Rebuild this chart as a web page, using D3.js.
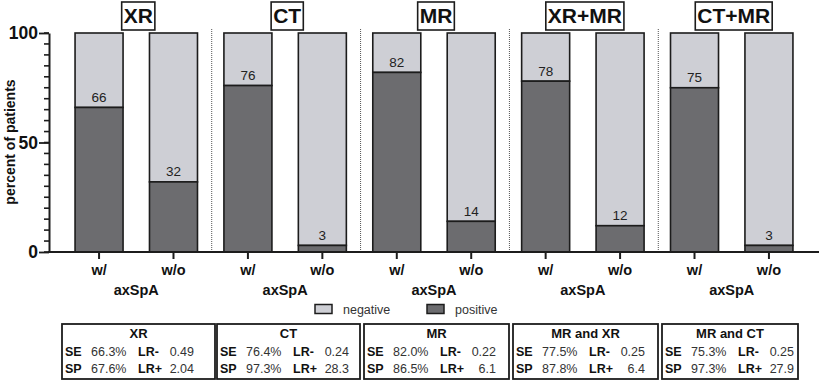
<!DOCTYPE html>
<html>
<head>
<meta charset="utf-8">
<script src="https://cdn.jsdelivr.net/npm/d3@7"></script>
<style>
  html, body { margin: 0; padding: 0; background: #fff; }
  svg { display: block; font-family: "Liberation Sans", Arial, Helvetica, sans-serif; }
</style>
</head>
<body>
<svg id="chart" width="820" height="381"></svg>
<script>
// ---------- data ----------
const groups = ["XR", "CT", "MR", "XR+MR", "CT+MR"];
const subgroups = ["w/", "w/o"];
const positiveWith = [66, 76, 82, 78, 75];
const positiveWithout = [32, 3, 14, 12, 3];
const yMajorTicks = [0, 50, 100];
const groupAxisLabel = "axSpA";
const yLabel = "percent of patients";
const legendLabels = ["negative", "positive"];

const tableTitles = ["XR", "CT", "MR", "MR and XR", "MR and CT"];
const seValues = ["66.3%", "76.4%", "82.0%", "77.5%", "75.3%"];
const spValues = ["67.6%", "97.3%", "86.5%", "87.8%", "97.3%"];
const lrNegValues = ["0.49", "0.24", "0.22", "0.25", "0.25"];
const lrPosValues = ["2.04", "28.3", "6.1", "6.4", "27.9"];

// ---------- layout ----------
const tableBoxes = [[62, 215], [217, 360], [364, 509], [513, 658], [662, 798]];
const colNeg = "#cecfd5", colPos = "#6c6c6f", colStroke = "#1c1c1c";

const svg = d3.select("#chart");

const bars = [];
groups.forEach((g, i) => {
  bars.push({ key: g + "|w/", group: g, sub: subgroups[0], gi: i, value: positiveWith[i] });
  bars.push({ key: g + "|w/o", group: g, sub: subgroups[1], gi: i, value: positiveWithout[i] });
});

const x = d3.scaleBand().domain(bars.map(d => d.key)).range([49, 819])
  .paddingInner(0.355).paddingOuter(0.35);
const y = d3.scaleLinear().domain([0, 100]).range([252, 33]);

// separators
for (let i = 0; i < groups.length - 1; i++) {
  const a = x(bars[i * 2 + 1].key) + x.bandwidth();
  const b = x(bars[i * 2 + 2].key);
  const sx = (a + b) / 2 + 1;
  svg.append("line").attr("x1", sx).attr("x2", sx).attr("y1", 29).attr("y2", 251)
    .attr("stroke", "#555").attr("stroke-width", 1).attr("stroke-dasharray", "1,1");
}

// bars
const bg = svg.append("g");
bars.forEach(d => {
  bg.append("rect").attr("x", x(d.key)).attr("width", x.bandwidth())
    .attr("y", y(100)).attr("height", y(d.value) - y(100))
    .attr("fill", colNeg).attr("stroke", colStroke).attr("stroke-width", 1.6);
  bg.append("rect").attr("x", x(d.key)).attr("width", x.bandwidth())
    .attr("y", y(d.value)).attr("height", y(0) - y(d.value))
    .attr("fill", colPos).attr("stroke", colStroke).attr("stroke-width", 1.6);
  bg.append("text").attr("x", x(d.key) + x.bandwidth() / 2).attr("y", y(d.value) - 5.5)
    .attr("text-anchor", "middle").attr("font-size", "13.5px").attr("fill", "#222")
    .text(d.value);
});

// y axis (minor ticks every 5, major at 0/50/100)
svg.append("g").attr("class", "yminor")
  .selectAll("line").data(d3.range(0, 101, 5)).join("line")
  .attr("x1", 44).attr("x2", 49).attr("y1", d => y(d)).attr("y2", d => y(d))
  .attr("stroke", colStroke).attr("stroke-width", 1.6);
const yAx = svg.append("g").attr("transform", "translate(49,0)")
  .call(d3.axisLeft(y).tickValues(yMajorTicks).tickSize(10).tickSizeOuter(0).tickPadding(1));
yAx.select(".domain").attr("stroke", colStroke).attr("stroke-width", 2);
yAx.selectAll(".tick line").attr("stroke", colStroke).attr("stroke-width", 1.8);
yAx.selectAll("text").attr("font-size", "17.5px").attr("font-weight", "bold")
  .attr("fill", "#111").attr("font-family", "Liberation Sans, Arial, sans-serif");

svg.append("text").attr("transform", "translate(15,142) rotate(-90)")
  .attr("text-anchor", "middle").attr("font-size", "14px").attr("font-weight", "bold")
  .attr("fill", "#111").text(yLabel);

// x axis
const xAx = svg.append("g").attr("transform", "translate(0,252)")
  .call(d3.axisBottom(x).tickSize(7).tickSizeOuter(0).tickPadding(6)
    .tickFormat(k => k.split("|")[1]));
xAx.select(".domain").attr("stroke", colStroke).attr("stroke-width", 2)
  .attr("d", "M48,0H819");
xAx.selectAll("line").attr("stroke", colStroke).attr("stroke-width", 2);
xAx.selectAll("text").attr("font-size", "14.5px").attr("font-weight", "bold")
  .attr("fill", "#111").attr("font-family", "Liberation Sans, Arial, sans-serif");

// group labels & titles
groups.forEach((g, i) => {
  const c1 = x(bars[i * 2].key) + x.bandwidth() / 2;
  const c2 = x(bars[i * 2 + 1].key) + x.bandwidth() / 2;
  const cx = (c1 + c2) / 2;
  svg.append("text").attr("x", cx).attr("y", 295).attr("text-anchor", "middle")
    .attr("font-size", "14.5px").attr("font-weight", "bold").attr("fill", "#111")
    .text(groupAxisLabel);
  const tg = svg.append("g");
  const box = tg.append("rect");
  const t = tg.append("text").attr("x", cx + 2).attr("y", 23).attr("text-anchor", "middle")
    .attr("font-size", "21px").attr("font-weight", "bold").attr("fill", "#111").text(g);
  const bb = t.node().getBBox();
  box.attr("x", bb.x - 2).attr("y", 2)
    .attr("width", bb.width + 4).attr("height", 28)
    .attr("fill", "#fff").attr("stroke", colStroke).attr("stroke-width", 1.6);
});

// legend
const legendX = [315, 427];
legendLabels.forEach((l, i) => {
  svg.append("rect").attr("x", legendX[i]).attr("y", 304.5).attr("width", 17).attr("height", 9)
    .attr("fill", i === 0 ? colNeg : colPos).attr("stroke", colStroke).attr("stroke-width", 1.5);
  svg.append("text").attr("x", legendX[i] + 28).attr("y", 314).attr("font-size", "12.5px")
    .attr("fill", "#333").text(l);
});

// tables
tableTitles.forEach((t, i) => {
  const [x0, x1] = tableBoxes[i];
  const g = svg.append("g");
  g.append("rect").attr("x", x0).attr("y", 324).attr("width", x1 - x0).attr("height", 55)
    .attr("fill", "#fff").attr("stroke", colStroke).attr("stroke-width", 1.8);
  g.append("text").attr("x", (x0 + x1) / 2).attr("y", 338).attr("text-anchor", "middle")
    .attr("font-size", "13px").attr("font-weight", "bold").attr("fill", "#111").text(t);
  const rows = [["SE", seValues[i], "LR-", lrNegValues[i], 356],
                ["SP", spValues[i], "LR+", lrPosValues[i], 373]];
  rows.forEach(r => {
    g.append("text").attr("x", x0 + 3).attr("y", r[4]).attr("font-size", "12.5px")
      .attr("font-weight", "bold").attr("fill", "#111").text(r[0]);
    g.append("text").attr("x", x0 + 29).attr("y", r[4]).attr("font-size", "12.5px")
      .attr("fill", "#333").text(r[1]);
    g.append("text").attr("x", x0 + 76).attr("y", r[4]).attr("font-size", "12.5px")
      .attr("font-weight", "bold").attr("fill", "#111").text(r[2]);
    g.append("text").attr("x", x0 + 132).attr("y", r[4]).attr("text-anchor", "end")
      .attr("font-size", "12.5px").attr("fill", "#333").text(r[3]);
  });
});
</script>
</body>
</html>
